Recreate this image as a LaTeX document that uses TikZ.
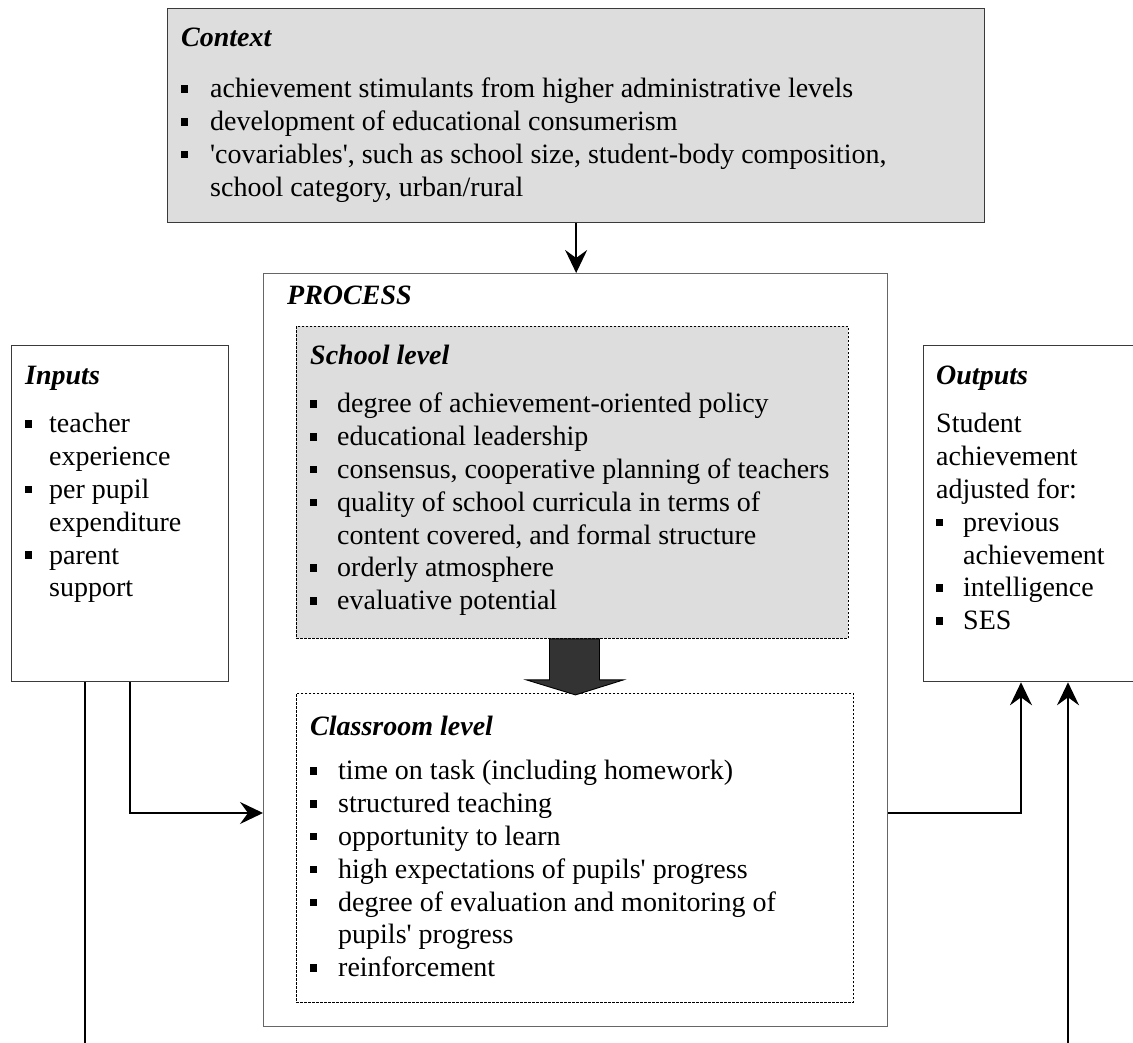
\documentclass[tikz,border=0pt]{standalone}
\usepackage{fontspec}
\setmainfont{Liberation Serif}
\usetikzlibrary{arrows.meta,calc}

% small square bullet, a bulleted line, a continuation line and a heading
\newcommand\sqbul{\raisebox{5pt}{\rule{7pt}{7.5pt}}}
\newcommand\bline[2]{\hbox{\makebox[#1][l]{\sqbul}#2}}
\newcommand\contline[2]{\hbox{\hspace*{#1}#2}}
\newcommand\hd[1]{\hbox{\bfseries\itshape #1}}
\newcommand\sq{\textquotesingle}
% stacked lines with a fixed baseline distance; baseline = first line
\newcommand\stack[1]{\vtop{\baselineskip=32.8pt\lineskiplimit=-100pt\lineskip=0pt #1}}

\definecolor{panel}{HTML}{DDDDDD}
\definecolor{frame}{HTML}{3A3A3A}
\definecolor{pframe}{HTML}{666666}
\definecolor{bigarrow}{HTML}{333333}

\tikzset{
  box/.style={draw=frame, line width=1.3pt, rectangle, inner sep=0pt, anchor=north west},
  graybox/.style={box, fill=panel},
  dotbox/.style={draw=black, line width=0.9pt, dash pattern=on 2.5pt off 1.5pt, rectangle, inner sep=0pt, anchor=north west},
  txt/.style={anchor=base west, inner sep=0pt, font=\fontsize{28}{32.8}\selectfont},
  conn/.style={draw=black, line width=1.4pt},
  arr/.style={conn, -{Stealth[length=23pt, width=22pt, inset=8pt]}},
}

\begin{document}
\begin{tikzpicture}[x=1pt, y=-1pt]
\useasboundingbox (0,0) rectangle (1133,1043);
\fill[white] (0,0) rectangle (1133,1043);
\clip (0,0) rectangle (1133,1043);

% ---- frames ----
\node[graybox, minimum width=817pt, minimum height=214pt] (context) at (167,8) {};
\node[box, draw=pframe, minimum width=624pt, minimum height=753pt] (process) at (263,273) {};
\node[dotbox, fill=panel, minimum width=552pt, minimum height=312pt] (school) at (296,326) {};
\node[dotbox, minimum width=557pt, minimum height=309pt] (classroom) at (296,693) {};
\node[box, minimum width=217pt, minimum height=336pt] (inputs) at (11,345) {};
\node[box, minimum width=250pt, minimum height=336pt] (outputs) at (923,345) {};

% ---- texts ----
\node[txt] (contexttext) at (181,47) {\stack{%
  \hd{Context}\vskip18pt
  \bline{29pt}{achievement stimulants from higher administrative levels}
  \bline{29pt}{development of educational consumerism}
  \bline{29pt}{\sq covariables\sq, such as school size, student-body composition,}
  \contline{29pt}{school category, urban/rural}}};

\node[txt] (processtitle) at (287,305) {\stack{\hd{PROCESS}}};

\node[txt] (schooltext) at (310,364) {\stack{%
  \hd{School level}\vskip16pt
  \bline{27pt}{degree of achievement-oriented policy}
  \bline{27pt}{educational leadership}
  \bline{27pt}{consensus, cooperative planning of teachers}
  \bline{27pt}{quality of school curricula in terms of}
  \contline{27pt}{content covered, and formal structure}
  \bline{27pt}{orderly atmosphere}
  \bline{27pt}{evaluative potential}}};

\node[txt] (classtext) at (310,735) {\stack{%
  \hd{Classroom level}\vskip12pt
  \bline{28pt}{time on task (including homework)}
  \bline{28pt}{structured teaching}
  \bline{28pt}{opportunity to learn}
  \bline{28pt}{high expectations of pupils\sq\ progress}
  \bline{28pt}{degree of evaluation and monitoring of}
  \contline{28pt}{pupils\sq\ progress}
  \bline{28pt}{reinforcement}}};

\node[txt] (inputtext) at (25,384) {\stack{%
  \hd{Inputs}\vskip16pt
  \bline{24pt}{teacher}
  \contline{24pt}{experience}
  \bline{24pt}{per pupil}
  \contline{24pt}{expenditure}
  \bline{24pt}{parent}
  \contline{24pt}{support}}};

\node[txt] (outputtext) at (936,384) {\stack{%
  \hd{Outputs}\vskip16pt
  \hbox{Student}
  \hbox{achievement}
  \hbox{adjusted for:}
  \bline{27pt}{previous}
  \contline{27pt}{achievement}
  \bline{27pt}{intelligence}
  \bline{27pt}{SES}}};

% ---- connectors ----
\coordinate (inA) at ($(inputs.south west)+(74,0)$);
\coordinate (inB) at ($(inputs.south west)+(119,0)$);
\coordinate (outA) at ($(outputs.south west)+(98,0)$);
\coordinate (outB) at ($(outputs.south west)+(145,0)$);
\coordinate (leftend) at (inA |- 0,1043);
\coordinate (rightend) at (outB |- 0,1043);
\coordinate (midrow) at (0,813);

\draw[arr] (context.south) -- (context.south |- process.north);
\draw[arr] (inB) |- (process.west |- midrow);
\draw[arr] (process.east |- midrow) -| (outA);
\draw[conn] (inA) -- (leftend);
\draw[arr] (rightend) -- (outB);

% ---- block arrow from school level to classroom level ----
\filldraw[fill=bigarrow, draw=black, line width=0.9pt]
  ($(school.south)+(-23,0)$) -- ($(school.south)+(-23,41)$)
  -- ($(school.south)+(-46,41)$) -- ($(school.south)+(3,56)$)
  -- ($(school.south)+(51,41)$) -- ($(school.south)+(27,41)$)
  -- ($(school.south)+(27,0)$) -- cycle;
\end{tikzpicture}
\end{document}
